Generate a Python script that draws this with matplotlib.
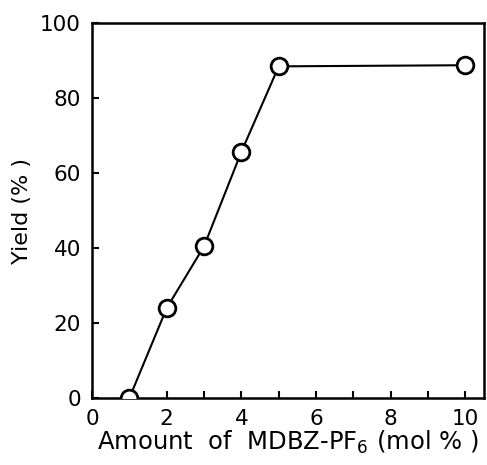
import matplotlib
matplotlib.use("Agg")
import matplotlib.pyplot as plt
from matplotlib.ticker import MultipleLocator

# data
amount = [1, 2, 3, 4, 5, 10]
yield_pct = [0, 24, 40.5, 65.7, 88.5, 88.8]

plt.rcParams['font.family'] = ['DejaVu Sans']

fig = plt.figure(figsize=(4.87, 4.65), dpi=100)
ax = fig.add_axes([0.189, 0.144, 0.805, 0.806])

ax.plot(amount, yield_pct, color='black', linewidth=1.5, marker='o',
        markersize=12, markerfacecolor='white', markeredgecolor='black',
        markeredgewidth=2, clip_on=True, zorder=3)

ax.set_xlim(0, 10.5)
ax.set_ylim(0, 100)
ax.xaxis.set_major_locator(MultipleLocator(2))
ax.xaxis.set_minor_locator(MultipleLocator(1))
ax.yaxis.set_major_locator(MultipleLocator(20))

ax.tick_params(axis='both', which='both', direction='in', length=5, width=1.5,
               labelsize=15.5, pad=8)
ax.tick_params(axis='x', which='both', top=False)
ax.tick_params(axis='y', which='both', right=False)

for sp in ax.spines.values():
    sp.set_linewidth(1.8)

ax.set_xlabel('Amount  of  MDBZ-PF$_6$ (mol % )', fontsize=17.5, labelpad=0)
ax.set_ylabel('Yield (% )', fontsize=16, labelpad=6)

fig.savefig('out.png', dpi=100)
